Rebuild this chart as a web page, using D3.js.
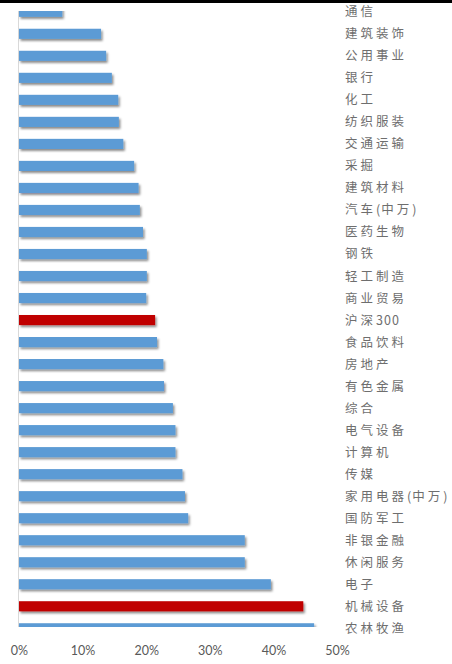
<!DOCTYPE html>
<html><head><meta charset="utf-8">
<script src="https://cdn.jsdelivr.net/npm/d3@7"></script>
<style>
html,body{margin:0;padding:0;background:#fff;}
svg{display:block;}
</style></head>
<body>
<script>
const categories = ["通信","建筑装饰","公用事业","银行","化工","纺织服装","交通运输","采掘","建筑材料","汽车(中万)","医药生物","钢铁","轻工制造","商业贸易","沪深300","食品饮料","房地产","有色金属","综合","电气设备","计算机","传媒","家用电器(中万)","国防军工","非银金融","休闲服务","电子","机械设备","农林牧渔"];
const values = [6.8,12.9,13.7,14.6,15.6,15.7,16.4,18.1,18.8,19.0,19.5,20.1,20.1,20.0,21.4,21.7,22.7,22.8,24.2,24.6,24.6,25.7,26.1,26.6,35.5,35.5,39.6,44.7,46.4];
const highlighted = ["沪深300","机械设备"];
const tickValues = [0,10,20,30,40,50];
const tickLabels = ["0%","10%","20%","30%","40%","50%"];

const W = 452, H = 664;
const svg = d3.select("body").append("svg").attr("width", W).attr("height", H);

const defs = svg.append("defs");
const f = defs.append("filter").attr("id","sh").attr("x","-10%").attr("y","-50%").attr("width","130%").attr("height","250%");
f.append("feDropShadow").attr("dx",1.5).attr("dy",2).attr("stdDeviation",1.2).attr("flood-color","#000").attr("flood-opacity",0.45);
defs.append("clipPath").attr("id","clip").append("rect").attr("x",0).attr("y",11).attr("width",W).attr("height",616);

const x = d3.scaleLinear().domain([0,50]).range([19,337]);
const y = d3.scalePoint().domain(categories).range([11.8, 628.3]);
const bh = y.step()*0.46;

// top black band
svg.append("rect").attr("x",0).attr("y",0).attr("width",W).attr("height",3).attr("fill","#000");

// axis line
svg.append("line").attr("x1",18.5).attr("x2",18.5).attr("y1",11).attr("y2",627).attr("stroke","#d9d9d9").attr("stroke-width",1);

const g = svg.append("g").attr("clip-path","url(#clip)");
g.selectAll("rect.bar").data(categories).join("rect")
  .attr("class","bar")
  .attr("x", x(0))
  .attr("y", d => y(d) - bh/2)
  .attr("width", (d,i) => x(values[i]) - x(0))
  .attr("height", bh)
  .attr("fill", d => highlighted.includes(d) ? "#C00000" : "#5B9BD5")
  .attr("filter","url(#sh)");

// category labels (CJK chars spaced wider than digits/parentheses)
const lab = svg.selectAll("text.cat").data(categories).join("text")
  .attr("class","cat")
  .attr("x",345)
  .attr("y", d => y(d))
  .attr("dy","0.36em")
  .attr("font-family","'Noto Sans CJK SC', sans-serif")
  .attr("font-size",12.5)
  .attr("fill","#6e6e6e");
lab.each(function(d){
  const t = d3.select(this);
  Array.from(d).forEach(ch => {
    const cjk = /[\u4e00-\u9fff]/.test(ch);
    t.append("tspan").attr("letter-spacing", cjk ? 3 : 1).text(ch);
  });
});

// x axis labels
const xAxis = d3.axisBottom(x).tickValues(tickValues).tickFormat((d,i)=>tickLabels[i]).tickSize(0).tickPadding(0);
const ax = svg.append("g").attr("transform","translate(0,646)").call(xAxis);
ax.select(".domain").remove();
ax.selectAll("text").attr("font-family","Lato, 'Open Sans', sans-serif").attr("font-size",12.5).attr("fill","#595959");
</script>
</body></html>
